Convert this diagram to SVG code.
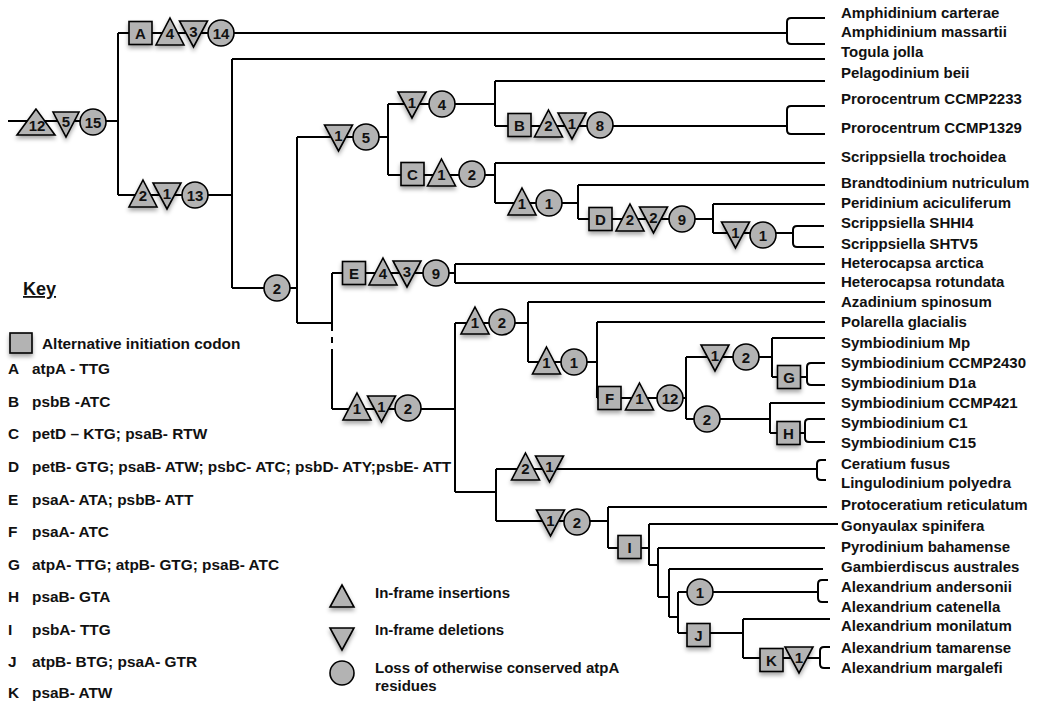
<svg xmlns="http://www.w3.org/2000/svg" xmlns:xlink="http://www.w3.org/1999/xlink" width="1037" height="704" viewBox="0 0 1037 704">
<style>
.ln{stroke:#000;stroke-width:2;fill:none}
.sh{fill:#b3b3b3;stroke:#000;stroke-width:1.6}
.shd{filter:url(#ds)}
.t{font-family:"Liberation Sans",Arial,sans-serif;font-weight:bold;font-size:15px;fill:#111}
.k{font-size:15.4px}
.n{font-family:"Liberation Sans",Arial,sans-serif;font-weight:bold;font-size:15px;fill:#111;text-anchor:middle}
</style>
<defs>
<filter id="ds" x="-40%" y="-40%" width="180%" height="190%"><feDropShadow dx="0" dy="3" stdDeviation="2" flood-color="#000" flood-opacity="0.35"/></filter>
<path id="tu" d="M0,-15L14,12L-14,12Z"/>
<path id="td" d="M-14,-12L14,-12L0,14Z"/>
<rect id="sq" x="-11.5" y="-11.5" width="23" height="23"/>
<circle id="ci" r="13"/>
</defs>
<rect width="1037" height="704" fill="#fff"/>

<g id="connectors">
<path class="ln" d="M8,121H118 M118,33V195 M118,33H787 M118,195H232 M232,59V288 M232,59H825 M232,288H297 M297,137V323 M297,137H388 M297,323H332 M388,104V175 M388,104H495 M388,175H495 M495,81V126 M495,81H825 M495,126H787 M495,163V203 M495,163H825 M495,203H578 M578,185V219 M578,185H825 M578,219H713 M713,204V233 M713,204H825 M713,233H793 M332,273H455 M455,264V283 M455,264H825 M455,283H825 M332,409H455 M455,323V492 M455,323H528 M528,302V362 M528,302H825 M528,362H597 M597,322V398 M597,322H825 M597,398H686 M686,357V419 M686,357H772 M772,338V377 M772,338H825 M772,377H807 M686,419H770 M770,403V433 M770,403H825 M770,433H805 M455,492H496 M496,469V521 M496,469H817 M496,521H608 M608,507V548 M608,507H827 M608,548H649 M649,524V565 M649,524H838 M649,565H658 M658,548V597 M658,548H825 M658,597H669 M669,569V617 M669,569H823 M669,617H678 M678,592V633 M678,592H818 M678,633H743 M743,619V658 M743,619H830 M743,658H820"/>
<path class="ln" d="M332,273V331 M332,337V343 M332,349V409"/>
<path class="ln" d="M825,18H791Q787,18 787,22V40Q787,44 791,44H825 M825,106H791Q787,106 787,110V130Q787,134 791,134H825 M824,226H797Q793,226 793,230V243Q793,247 797,247H824 M825,363H811Q807,363 807,367V381Q807,385 811,385H825 M825,419H809Q805,419 805,423V438Q805,442 809,442H825 M826,460H821Q817,460 817,464V476Q817,480 821,480H826 M828,580H822Q818,580 818,584V598Q818,602 822,602H828 M830,647H824Q820,647 820,651V664Q820,668 824,668H830"/>
</g>

<g id="root-marks">
<polygon class="sh shd" points="36,109 17,135 55,135"/><text class="n" x="37" y="131">12</text>
<polygon class="sh shd" points="53,112 79,112 66,137"/><text class="n" x="66" y="127">5</text>
<circle class="sh" cx="93" cy="122" r="13"/><text class="n" x="93" y="127.5">15</text>
</g>
<g id="branch-A">
<use href="#sq" x="140.5" y="33" class="sh shd"/><text class="n" x="140.5" y="38.5">A</text>
<use href="#tu" x="170" y="33" class="sh shd"/><text class="n" x="170" y="39">4</text>
<use href="#td" x="193.5" y="33" class="sh shd"/><text class="n" x="193.5" y="37">3</text>
<use href="#ci" x="221" y="33" class="sh"/><text class="n" x="221" y="38.5">14</text>
</g>
<g id="branch-13">
<use href="#tu" x="143" y="195" class="sh shd"/><text class="n" x="143" y="201">2</text>
<use href="#td" x="167" y="195" class="sh shd"/><text class="n" x="167" y="199">1</text>
<use href="#ci" x="195" y="195" class="sh"/><text class="n" x="195" y="200.5">13</text>
</g>
<g id="branch-2a">
<use href="#ci" x="277" y="288" class="sh"/><text class="n" x="277" y="293.5">2</text>
</g>
<g id="branch-5">
<use href="#td" x="338.5" y="137" class="sh shd"/><text class="n" x="338.5" y="141">1</text>
<use href="#ci" x="366" y="137" class="sh"/><text class="n" x="366" y="142.5">5</text>
</g>
<g id="branch-4">
<use href="#td" x="412" y="104" class="sh shd"/><text class="n" x="412" y="108">1</text>
<use href="#ci" x="442" y="104" class="sh"/><text class="n" x="442" y="109.5">4</text>
</g>
<g id="branch-B">
<use href="#sq" x="519.5" y="125" class="sh shd"/><text class="n" x="519.5" y="130.5">B</text>
<use href="#tu" x="548.5" y="125" class="sh shd"/><text class="n" x="548.5" y="131">2</text>
<use href="#td" x="572" y="125" class="sh shd"/><text class="n" x="572" y="129">1</text>
<use href="#ci" x="600" y="125" class="sh"/><text class="n" x="600" y="130.5">8</text>
</g>
<g id="branch-C">
<use href="#sq" x="412.5" y="174" class="sh shd"/><text class="n" x="412.5" y="179.5">C</text>
<use href="#tu" x="441.5" y="174" class="sh shd"/><text class="n" x="441.5" y="180">1</text>
<use href="#ci" x="472" y="174" class="sh"/><text class="n" x="472" y="179.5">2</text>
</g>
<g id="branch-1a">
<use href="#tu" x="522" y="203" class="sh shd"/><text class="n" x="522" y="209">1</text>
<use href="#ci" x="549" y="203" class="sh"/><text class="n" x="549" y="208.5">1</text>
</g>
<g id="branch-D">
<use href="#sq" x="600.5" y="219" class="sh shd"/><text class="n" x="600.5" y="224.5">D</text>
<use href="#tu" x="630" y="219" class="sh shd"/><text class="n" x="630" y="225">2</text>
<use href="#td" x="653.5" y="219" class="sh shd"/><text class="n" x="653.5" y="223">2</text>
<use href="#ci" x="682" y="219" class="sh"/><text class="n" x="682" y="224.5">9</text>
</g>
<g id="branch-1b">
<use href="#td" x="735.5" y="234" class="sh shd"/><text class="n" x="735.5" y="238">1</text>
<use href="#ci" x="763" y="235" class="sh"/><text class="n" x="763" y="240.5">1</text>
</g>
<g id="branch-E">
<use href="#sq" x="354" y="273" class="sh shd"/><text class="n" x="354" y="278.5">E</text>
<use href="#tu" x="383" y="273" class="sh shd"/><text class="n" x="383" y="279">4</text>
<use href="#td" x="407" y="273" class="sh shd"/><text class="n" x="407" y="277">3</text>
<use href="#ci" x="436" y="273" class="sh"/><text class="n" x="436" y="278.5">9</text>
</g>
<g id="branch-2b">
<use href="#tu" x="357" y="408" class="sh shd"/><text class="n" x="357" y="414">1</text>
<use href="#td" x="381.5" y="408" class="sh shd"/><text class="n" x="381.5" y="412">1</text>
<use href="#ci" x="408" y="408" class="sh"/><text class="n" x="408" y="413.5">2</text>
</g>
<g id="branch-2c">
<use href="#tu" x="475" y="322" class="sh shd"/><text class="n" x="475" y="328">1</text>
<use href="#ci" x="502" y="322" class="sh"/><text class="n" x="502" y="327.5">2</text>
</g>
<g id="branch-1c">
<use href="#tu" x="546.5" y="362" class="sh shd"/><text class="n" x="546.5" y="368">1</text>
<use href="#ci" x="574" y="362" class="sh"/><text class="n" x="574" y="367.5">1</text>
</g>
<g id="branch-F">
<use href="#sq" x="609.5" y="398" class="sh shd"/><text class="n" x="609.5" y="403.5">F</text>
<use href="#tu" x="639.5" y="398" class="sh shd"/><text class="n" x="639.5" y="404">1</text>
<use href="#ci" x="670" y="398" class="sh"/><text class="n" x="670" y="403.5">12</text>
</g>
<g id="branch-2d">
<use href="#td" x="715" y="357" class="sh shd"/><text class="n" x="715" y="361">1</text>
<use href="#ci" x="746" y="357" class="sh"/><text class="n" x="746" y="362.5">2</text>
</g>
<g id="branch-G">
<use href="#sq" x="789" y="377" class="sh shd"/><text class="n" x="789" y="382.5">G</text>
</g>
<g id="branch-2e">
<use href="#ci" x="707" y="419" class="sh"/><text class="n" x="707" y="424.5">2</text>
</g>
<g id="branch-H">
<use href="#sq" x="788.5" y="433" class="sh shd"/><text class="n" x="788.5" y="438.5">H</text>
</g>
<g id="branch-21">
<use href="#tu" x="525.5" y="468" class="sh shd"/><text class="n" x="525.5" y="474">2</text>
<use href="#td" x="549.5" y="468" class="sh shd"/><text class="n" x="549.5" y="472">1</text>
</g>
<g id="branch-2f">
<use href="#td" x="550.5" y="522" class="sh shd"/><text class="n" x="550.5" y="526">1</text>
<use href="#ci" x="577" y="522" class="sh"/><text class="n" x="577" y="527.5">2</text>
</g>
<g id="branch-I">
<use href="#sq" x="629.5" y="547" class="sh shd"/><text class="n" x="629.5" y="552.5">I</text>
</g>
<g id="branch-1d">
<use href="#ci" x="700" y="592" class="sh"/><text class="n" x="700" y="597.5">1</text>
</g>
<g id="branch-J">
<use href="#sq" x="698.5" y="635" class="sh shd"/><text class="n" x="698.5" y="640.5">J</text>
</g>
<g id="branch-K">
<use href="#sq" x="771.5" y="660" class="sh shd"/><text class="n" x="771.5" y="665.5">K</text>
<use href="#td" x="799" y="659" class="sh shd"/><text class="n" x="799" y="663">1</text>
</g>

<g id="taxa" class="t">
<text x="841" y="18">Amphidinium carterae</text>
<text x="841" y="37">Amphidinium massartii</text>
<text x="841" y="57">Togula jolla</text>
<text x="841" y="78">Pelagodinium beii</text>
<text x="841" y="104">Prorocentrum CCMP2233</text>
<text x="841" y="133">Prorocentrum CCMP1329</text>
<text x="841" y="162">Scrippsiella trochoidea</text>
<text x="841" y="188">Brandtodinium nutriculum</text>
<text x="841" y="208">Peridinium aciculiferum</text>
<text x="841" y="228">Scrippsiella SHHI4</text>
<text x="841" y="249">Scrippsiella SHTV5</text>
<text x="841" y="268">Heterocapsa arctica</text>
<text x="841" y="287">Heterocapsa rotundata</text>
<text x="841" y="307">Azadinium spinosum</text>
<text x="841" y="327">Polarella glacialis</text>
<text x="841" y="348">Symbiodinium Mp</text>
<text x="841" y="368">Symbiodinium CCMP2430</text>
<text x="841" y="388">Symbiodinium D1a</text>
<text x="841" y="408">Symbiodinium CCMP421</text>
<text x="841" y="428">Symbiodinium C1</text>
<text x="841" y="448">Symbiodinium C15</text>
<text x="841" y="469">Ceratium fusus</text>
<text x="841" y="488">Lingulodinium polyedra</text>
<text x="841" y="510">Protoceratium reticulatum</text>
<text x="841" y="531">Gonyaulax spinifera</text>
<text x="841" y="552">Pyrodinium bahamense</text>
<text x="841" y="572">Gambierdiscus australes</text>
<text x="841" y="592">Alexandrium andersonii</text>
<text x="841" y="612">Alexandrium catenella</text>
<text x="841" y="631">Alexandrium monilatum</text>
<text x="841" y="653">Alexandrium tamarense</text>
<text x="841" y="673">Alexandrium margalefi</text>
</g>

<g id="key" class="t k">
<text x="23" y="295" style="font-size:18px;text-decoration:underline">Key</text>
<rect x="10" y="333" width="22" height="20" class="sh shd"/>
<text x="42" y="349">Alternative initiation codon</text>
<text x="8" y="374">A</text><text x="32" y="374">atpA - TTG</text>
<text x="8" y="407">B</text><text x="32" y="407">psbB -ATC</text>
<text x="8" y="439">C</text><text x="32" y="439">petD – KTG; psaB- RTW</text>
<text x="8" y="472">D</text><text x="32" y="472">petB- GTG; psaB- ATW; psbC- ATC; psbD- ATY;psbE- ATT</text>
<text x="8" y="505">E</text><text x="32" y="505">psaA- ATA; psbB- ATT</text>
<text x="8" y="537">F</text><text x="32" y="537">psaA- ATC</text>
<text x="8" y="570">G</text><text x="32" y="570">atpA- TTG; atpB- GTG; psaB- ATC</text>
<text x="8" y="602">H</text><text x="32" y="602">psaB- GTA</text>
<text x="8" y="635">I</text><text x="32" y="635">psbA- TTG</text>
<text x="8" y="667">J</text><text x="32" y="667">atpB- BTG; psaA- GTR</text>
<text x="8" y="698">K</text><text x="32" y="698">psaB- ATW</text>
</g>

<g id="legend" class="t">
<polygon class="sh shd" points="342,585 330,607 354,607"/>
<text x="375" y="598">In-frame insertions</text>
<polygon class="sh shd" points="330,628 354,628 342,650"/>
<text x="375" y="635">In-frame deletions</text>
<circle class="sh" cx="342" cy="673" r="12"/>
<text x="375" y="673">Loss of otherwise conserved atpA</text>
<text x="375" y="691">residues</text>
</g>
</svg>
